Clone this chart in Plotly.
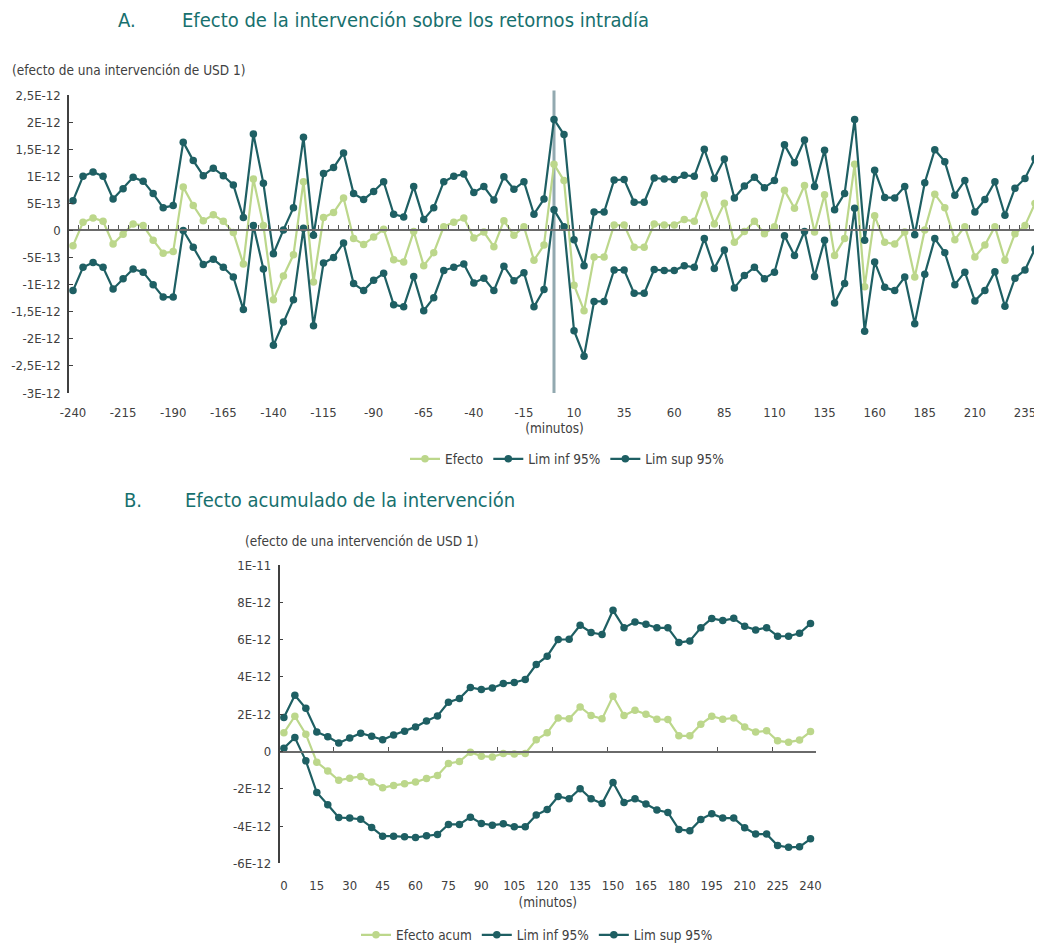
import plotly.graph_objects as go

# ---------------- data ----------------
minutes_a = list(range(-240, 245, 5))
minutes_b = list(range(0, 245, 5))
SCALE = 1e-12

efecto_a = [-0.28, 0.15, 0.23, 0.17, -0.25, -0.07, 0.12, 0.09, -0.18, -0.42,
            -0.39, 0.80, 0.46, 0.18, 0.29, 0.17, -0.04, -0.62, 0.95, 0.09,
            -1.28, -0.84, -0.45, 0.90, -0.95, 0.24, 0.33, 0.60, -0.15, -0.26,
            -0.12, 0.02, -0.54, -0.58, -0.02, -0.65, -0.41, 0.07, 0.15, 0.23,
            -0.14, -0.03, -0.30, 0.18, -0.09, 0.07, -0.55, -0.27, 1.22, 0.92,
            -1.01, -1.48, -0.49, -0.49, 0.10, 0.10, -0.31, -0.31, 0.12, 0.10,
            0.10, 0.20, 0.17, 0.66, 0.12, 0.50, -0.22, -0.02, 0.17, -0.06,
            0.07, 0.74, 0.41, 0.83, -0.03, 0.66, -0.46, -0.15, 1.22, -1.04,
            0.27, -0.22, -0.25, -0.03, -0.86, 0.01, 0.67, 0.42, -0.17, 0.07,
            -0.49, -0.27, 0.07, -0.55, -0.06, 0.09, 0.50]
lim_sup_a = [0.55, 1.00, 1.08, 1.00, 0.58, 0.77, 0.98, 0.91, 0.68, 0.42,
             0.46, 1.63, 1.29, 1.01, 1.15, 1.01, 0.84, 0.24, 1.78, 0.87,
             -0.43, 0.01, 0.42, 1.72, -0.09, 1.05, 1.16, 1.43, 0.68, 0.57,
             0.72, 0.90, 0.30, 0.25, 0.81, 0.20, 0.42, 0.90, 1.00, 1.04,
             0.70, 0.81, 0.56, 0.99, 0.76, 0.90, 0.30, 0.58, 2.05, 1.77,
             -0.17, -0.65, 0.34, 0.34, 0.93, 0.94, 0.52, 0.52, 0.97, 0.95,
             0.94, 1.02, 1.00, 1.50, 0.96, 1.32, 0.60, 0.82, 0.98, 0.79,
             0.92, 1.58, 1.25, 1.67, 0.81, 1.48, 0.38, 0.68, 2.05, -0.18,
             1.11, 0.61, 0.60, 0.81, -0.08, 0.88, 1.49, 1.27, 0.65, 0.92,
             0.34, 0.57, 0.90, 0.28, 0.78, 0.96, 1.33]
lim_inf_a = [-1.11, -0.68, -0.59, -0.68, -1.08, -0.89, -0.71, -0.77, -1.00, -1.23,
             -1.23, 0.00, -0.31, -0.63, -0.53, -0.68, -0.86, -1.46, 0.09, -0.71,
             -2.12, -1.69, -1.28, 0.04, -1.76, -0.60, -0.50, -0.23, -0.98, -1.11,
             -0.92, -0.79, -1.37, -1.41, -0.85, -1.48, -1.24, -0.74, -0.68, -0.62,
             -0.97, -0.88, -1.11, -0.66, -0.93, -0.78, -1.41, -1.09, 0.38, 0.07,
             -1.85, -2.32, -1.31, -1.31, -0.73, -0.73, -1.16, -1.16, -0.72, -0.74,
             -0.74, -0.65, -0.68, -0.15, -0.70, -0.36, -1.06, -0.83, -0.68, -0.89,
             -0.77, -0.10, -0.46, -0.02, -0.85, -0.18, -1.34, -0.98, 0.41, -1.86,
             -0.58, -1.05, -1.11, -0.86, -1.72, -0.81, -0.15, -0.41, -1.00, -0.77,
             -1.30, -1.11, -0.76, -1.40, -0.88, -0.73, -0.34]

efecto_b = [1.00, 1.89, 0.93, -0.57, -1.04, -1.54, -1.43, -1.34, -1.63, -1.95,
            -1.82, -1.73, -1.64, -1.45, -1.29, -0.64, -0.54, -0.04, -0.25, -0.29,
            -0.11, -0.14, -0.11, 0.63, 1.00, 1.80, 1.75, 2.39, 1.93, 1.75,
            2.96, 1.93, 2.21, 2.00, 1.73, 1.71, 0.84, 0.84, 1.46, 1.89,
            1.73, 1.80, 1.32, 1.04, 1.11, 0.57, 0.50, 0.61, 1.07]
lim_sup_b = [1.82, 3.02, 2.32, 1.05, 0.79, 0.46, 0.73, 0.98, 0.82, 0.63,
             0.88, 1.09, 1.32, 1.63, 1.91, 2.64, 2.84, 3.43, 3.32, 3.41,
             3.64, 3.70, 3.86, 4.66, 5.11, 6.00, 6.02, 6.77, 6.38, 6.27,
             7.57, 6.63, 6.95, 6.82, 6.63, 6.63, 5.84, 5.93, 6.63, 7.13,
             7.02, 7.14, 6.71, 6.52, 6.64, 6.18, 6.18, 6.34, 6.86]
lim_inf_b = [0.18, 0.75, -0.50, -2.20, -2.86, -3.54, -3.57, -3.63, -4.07, -4.54,
             -4.54, -4.57, -4.61, -4.52, -4.45, -3.91, -3.91, -3.52, -3.86, -3.95,
             -3.88, -4.04, -4.04, -3.41, -3.11, -2.41, -2.54, -2.00, -2.54, -2.79,
             -1.66, -2.73, -2.54, -2.82, -3.14, -3.27, -4.18, -4.25, -3.64, -3.34,
             -3.57, -3.57, -4.09, -4.43, -4.43, -5.04, -5.14, -5.11, -4.68]

xticks_a = list(range(-240, 240, 25))
yticks_a = [2.5, 2, 1.5, 1, 0.5, 0, -0.5, -1, -1.5, -2, -2.5, -3]
yticktext_a = ["2,5E-12", "2E-12", "1,5E-12", "1E-12", "5E-13", "0", "-5E-13",
               "-1E-12", "-1,5E-12", "-2E-12", "-2,5E-12", "-3E-12"]
xticks_b = list(range(0, 245, 15))
yticks_b = [10, 8, 6, 4, 2, 0, -2, -4, -6]
yticktext_b = ["1E-11", "8E-12", "6E-12", "4E-12", "2E-12", "0", "-2E-12", "-4E-12", "-6E-12"]

# ---------------- style ----------------
OFF = 8                      # page body margin of the browser
W, H = 1042 - OFF, 946 - OFF
FONT = "DejaVu Sans Condensed, Liberation Sans Narrow, Roboto, sans-serif"
TXT = "#404040"
LIGHT = "#bcd78b"
DARK = "#1e5f63"
TITLE = "#17706e"

def px(x):
    return (x - OFF) / W

def py(y):
    return 1 - (y - OFF) / H

# panel A geometry (screen pixels)
A_x0, A_x1 = px(69), px(1040)
A_y0, A_y1 = py(393), py(95)
A_rng = [-3.0 * SCALE, 2.5 * SCALE]
A_zero = A_y0 + (0 - A_rng[0]) / (A_rng[1] - A_rng[0]) * (A_y1 - A_y0)
A_xr = [-242, 242.5]

# panel B geometry
B_x0, B_x1 = px(279.5), px(816)
B_y0, B_y1 = py(863.4), py(565)
B_rng = [-6.0 * SCALE, 10.0 * SCALE]
B_zero = B_y0 + (0 - B_rng[0]) / (B_rng[1] - B_rng[0]) * (B_y1 - B_y0)
B_xr = [-2, 242.5]

def sc(v):
    return [a * SCALE for a in v]

fig = go.Figure()

def add_series(x, y, name, color, xa, ya, legend):
    fig.add_trace(go.Scatter(
        x=x, y=sc(y), name=name, mode="lines+markers",
        line=dict(color=color, width=2.2),
        marker=dict(color=color, size=7.5),
        xaxis=xa, yaxis=ya, legend=legend))

add_series(minutes_a, efecto_a, "Efecto", LIGHT, "x", "y", "legend")
add_series(minutes_a, lim_inf_a, "Lim inf 95%", DARK, "x", "y", "legend")
add_series(minutes_a, lim_sup_a, "Lim sup 95%", DARK, "x", "y", "legend")

add_series(minutes_b, efecto_b, "Efecto acum", LIGHT, "x2", "y2", "legend2")
add_series(minutes_b, lim_inf_b, "Lim inf 95%", DARK, "x2", "y2", "legend2")
add_series(minutes_b, lim_sup_b, "Lim sup 95%", DARK, "x2", "y2", "legend2")

# invisible helpers so the zero-line axes are drawn
fig.add_trace(go.Scatter(x=[minutes_a[0]], y=[0], mode="markers", marker=dict(opacity=0),
                         xaxis="x3", yaxis="y", showlegend=False, hoverinfo="skip"))
fig.add_trace(go.Scatter(x=[minutes_b[0]], y=[0], mode="markers", marker=dict(opacity=0),
                         xaxis="x4", yaxis="y2", showlegend=False, hoverinfo="skip"))

tickfont = dict(family=FONT, size=13, color=TXT)
axtitlefont = dict(family=FONT, size=13.5, color=TXT)

mid_a = [m + 2.5 for m in minutes_a[:-1]]
mid_b = [m + 2.5 for m in minutes_b[4:-1:5]]

fig.update_layout(
    template="none",
    width=W, height=H,
    margin=dict(l=0, r=0, t=0, b=0, pad=0, autoexpand=False),
    paper_bgcolor="white", plot_bgcolor="rgba(0,0,0,0)",
    font=dict(family=FONT, size=13, color=TXT),
    xaxis=dict(domain=[A_x0, A_x1], anchor="y", range=A_xr, tickmode="array",
               tickvals=xticks_a, ticktext=[str(t) for t in xticks_a], ticks="",
               ticklabelstandoff=10,
               showline=False, showgrid=False, zeroline=False, tickfont=tickfont,
               automargin=False,
               title=dict(text="(minutos)", font=axtitlefont, standoff=2)),
    yaxis=dict(domain=[A_y0, A_y1], anchor="x", range=A_rng, tickmode="array",
               tickvals=[v * SCALE for v in yticks_a], ticktext=yticktext_a,
               ticks="inside", ticklen=4, tickcolor=TXT, showline=True, linecolor=TXT,
               linewidth=1.5, showgrid=False, zeroline=False, tickfont=tickfont,
               ticklabelstandoff=4, automargin=False),
    xaxis3=dict(domain=[A_x0, A_x1], overlaying="x", anchor="free", position=A_zero,
                range=A_xr, tickmode="array", tickvals=mid_a, ticks="inside", ticklen=4,
                tickcolor="#555555", tickwidth=1.2, showticklabels=False, showline=True,
                linecolor="#6a6a6a", linewidth=2, showgrid=False, zeroline=False,
                automargin=False),
    xaxis2=dict(domain=[B_x0, B_x1], anchor="y2", range=B_xr, tickmode="array",
                tickvals=xticks_b, ticktext=[str(t) for t in xticks_b], ticks="",
                ticklabelstandoff=13,
                showline=False, showgrid=False, zeroline=False, tickfont=tickfont,
                automargin=False,
                title=dict(text="(minutos)", font=axtitlefont, standoff=5)),
    yaxis2=dict(domain=[B_y0, B_y1], anchor="x2", range=B_rng, tickmode="array",
                tickvals=[v * SCALE for v in yticks_b], ticktext=yticktext_b,
                ticks="inside", ticklen=4, tickcolor=TXT, showline=True, linecolor=TXT,
                linewidth=1.5, showgrid=False, zeroline=False, tickfont=tickfont,
                ticklabelstandoff=4, automargin=False),
    xaxis4=dict(domain=[B_x0, B_x1], overlaying="x2", anchor="free", position=B_zero,
                range=B_xr, tickmode="array", tickvals=mid_b, ticks="inside", ticklen=4,
                tickcolor="#555555", tickwidth=1.2, showticklabels=False, showline=True,
                linecolor="#6a6a6a", linewidth=2, showgrid=False, zeroline=False,
                automargin=False),
    legend=dict(orientation="h", x=px(567), xanchor="center", y=py(459), yanchor="middle",
                font=dict(family=FONT, size=13.5, color=TXT), bgcolor="rgba(0,0,0,0)"),
    legend2=dict(orientation="h", x=px(537), xanchor="center", y=py(935), yanchor="middle",
                 font=dict(family=FONT, size=13.5, color=TXT), bgcolor="rgba(0,0,0,0)"),
    showlegend=True,
)

# vertical marker at minute 0 (intervention)
fig.add_shape(type="line", xref="x", yref="y domain", x0=0, x1=0, y0=0, y1=1.015,
              line=dict(color="#92a9b0", width=3), layer="below")

def title(xc, y, text, anchor, size, color):
    fig.add_annotation(xref="paper", yref="paper", x=px(xc), y=py(y), text=text,
                       showarrow=False, xanchor=anchor, yanchor="middle",
                       font=dict(family=FONT, size=size, color=color))

title(127, 20, "A.", "center", 20, TITLE)
title(180, 20, "Efecto de la intervención sobre los retornos intradía", "left", 20, TITLE)
title(10, 70, "(efecto de una intervención de USD 1)", "left", 13.5, TXT)
title(133, 500, "B.", "center", 20, TITLE)
title(183, 500, "Efecto acumulado de la intervención", "left", 20, TITLE)
title(243, 541, "(efecto de una intervención de USD 1)", "left", 13.5, TXT)

fig.write_html("out.html")
